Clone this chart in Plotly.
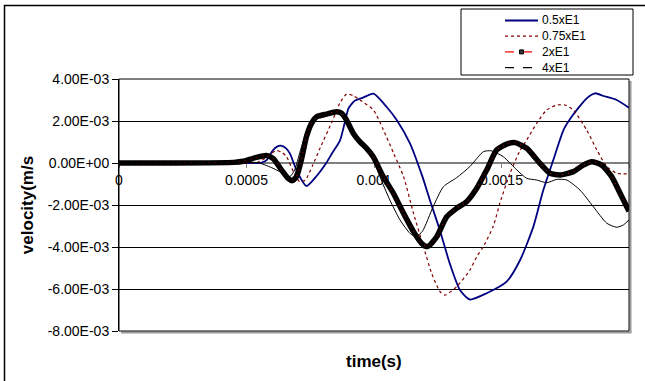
import plotly.graph_objects as go

# ---------------- data (time in ms, velocity in 1E-03 m/s) ----------------
series_names = ["0.5xE1", "0.75xE1", "2xE1", "4xE1"]

t_05_ms = [0, 0.30, 0.50, 0.56, 0.58, 0.60, 0.62, 0.638, 0.655, 0.670,
           0.700, 0.735, 0.775, 0.81, 0.835, 0.866, 0.885, 0.90, 0.925, 0.955,
           0.998, 1.049, 1.089, 1.141, 1.19, 1.219, 1.258, 1.297, 1.337, 1.376,
           1.442, 1.520, 1.573, 1.625, 1.664, 1.703, 1.743, 1.775, 1.834, 1.867,
           1.900, 1.952, 2.000]
v_05_e3 = [0, 0, 0, 0.02, 0.15, 0.55, 0.78, 0.82, 0.70, 0.46,
           -0.45, -1.10, -0.62, -0.05, 0.45, 1.05, 1.90, 2.60, 2.97, 3.10,
           3.30, 2.68, 2.05, 0.94, -0.65, -1.76, -3.19, -4.78, -6.05, -6.50,
           -6.20, -5.65, -4.62, -3.03, -1.29, 0.14, 1.57, 2.20, 3.08, 3.32,
           3.19, 3.00, 2.63]

t_075_ms = [0, 0.50, 0.54, 0.57, 0.595, 0.618, 0.64, 0.657, 0.684, 0.709,
            0.73, 0.76, 0.79, 0.833, 0.866, 0.893, 0.92, 0.945, 0.998, 1.037,
            1.077, 1.116, 1.155, 1.194, 1.226, 1.259, 1.278, 1.324, 1.376, 1.403,
            1.429, 1.468, 1.494, 1.533, 1.573, 1.599, 1.638, 1.677, 1.717, 1.749,
            1.782, 1.834, 1.874, 1.913, 1.952, 2.000]
v_075_e3 = [0, 0, 0.02, 0.2, 0.45, 0.59, 0.5, 0.3, -0.41, -0.89,
            -0.82, -0.1, 0.75, 1.9, 2.85, 3.29, 3.2, 3.0, 2.52, 1.57,
            0.46, -0.65, -2.4, -3.98, -5.25, -6.13, -6.29, -5.89, -5.1, -4.46,
            -3.98, -3.0, -1.9, -0.5, 0.6, 1.1, 1.89, 2.52, 2.76, 2.76,
            2.52, 1.57, 0.62, -0.17, -0.49, -0.52]

t_2_ms = [0, 0.20, 0.45, 0.487, 0.539, 0.578, 0.606, 0.637, 0.663, 0.680,
          0.696, 0.716, 0.735, 0.755, 0.775, 0.814, 0.853, 0.873, 0.892, 0.919,
          0.945, 0.971, 0.997, 1.036, 1.076, 1.116, 1.155, 1.187, 1.21, 1.246,
          1.285, 1.324, 1.363, 1.403, 1.442, 1.481, 1.520, 1.553, 1.599, 1.651,
          1.690, 1.730, 1.782, 1.821, 1.854, 1.893, 1.932, 1.965, 2.000]
v_2_e3 = [0, 0, 0.03, 0.08, 0.27, 0.36, 0.2, -0.33, -0.73, -0.84,
          -0.65, 0.2, 1.25, 1.89, 2.2, 2.33, 2.44, 2.37, 2.05, 1.41,
          1.01, 0.7, 0.3, -0.65, -1.44, -2.4, -3.27, -3.83, -3.98, -3.51,
          -2.56, -2.16, -1.84, -1.2, -0.33, 0.62, 0.9, 0.97, 0.7, -0.02,
          -0.49, -0.57, -0.41, -0.1, 0.06, -0.1, -0.65, -1.44, -2.3]

t_4_ms = [0, 0.45, 0.50, 0.55, 0.604, 0.644, 0.670, 0.689, 0.709, 0.728,
          0.747, 0.775, 0.814, 0.853, 0.885, 0.931, 0.971, 0.997, 1.023, 1.062,
          1.102, 1.141, 1.165, 1.19, 1.232, 1.272, 1.324, 1.376, 1.429, 1.46,
          1.507, 1.560, 1.599, 1.638, 1.677, 1.717, 1.756, 1.808, 1.860, 1.913,
          1.952, 1.978, 2.000]
v_4_e3 = [0, 0, 0.05, 0.0, -0.25, -0.5, -0.65, -0.33, 0.5, 1.25,
          1.89, 2.2, 2.3, 2.37, 2.13, 1.18, 0.7, 0.14, -0.65, -1.76,
          -2.71, -3.35, -3.51, -3.25, -2.08, -1.13, -0.7, -0.17, 0.54, 0.58,
          0.3, -0.33, -0.73, -0.81, -0.94, -0.78, -0.81, -1.29, -2.08, -2.87,
          -3.06, -2.95, -2.71]

ytick_vals = [-0.008, -0.006, -0.004, -0.002, 0.0, 0.002, 0.004]
ytick_labels = ["-8.00E-03", "-6.00E-03", "-4.00E-03", "-2.00E-03",
                "0.00E+00", "2.00E-03", "4.00E-03"]
xtick_vals = [0, 0.0005, 0.001, 0.0015, 0.002]
xtick_labels = ["0", "0.0005", "0.001", "0.0015", "0.002"]


def si_t(ms):
    return [v * 1e-3 for v in ms]


def si_v(e3):
    return [v * 1e-3 for v in e3]


# ---------------- figure ----------------
FONT = "Liberation Sans, Arial, sans-serif"
FS = 14
FS_LEG = 12
W, H = 645, 381
L, R, T, B = 119, 16, 79, 50
PW, PH = W - L - R, H - T - B


def xp(px):
    return (px - L) / PW


def yp(py):
    return (H - B - py) / PH


NAVY = "#000080"
DARKRED = "#800000"
RED = "#FF0000"

fig = go.Figure()
sm = 0.6
fig.add_trace(go.Scatter(x=si_t(t_05_ms), y=si_v(v_05_e3), mode="lines",
                         name=series_names[0], showlegend=False,
                         line=dict(color=NAVY, width=1.8, shape="spline", smoothing=sm)))
fig.add_trace(go.Scatter(x=si_t(t_075_ms), y=si_v(v_075_e3), mode="lines",
                         name=series_names[1], showlegend=False,
                         line=dict(color=DARKRED, width=1.2, dash="dot", shape="spline", smoothing=sm)))
fig.add_trace(go.Scatter(x=si_t(t_2_ms), y=si_v(v_2_e3), mode="lines",
                         name=series_names[2], showlegend=False, hoverinfo="skip",
                         line=dict(color="black", width=5.5, shape="spline", smoothing=sm)))
fig.add_trace(go.Scatter(x=si_t(t_2_ms), y=si_v(v_2_e3), mode="lines",
                         name=series_names[2], showlegend=False,
                         line=dict(color=RED, width=0.8, dash="1px,5px", shape="spline", smoothing=sm)))
fig.add_trace(go.Scatter(x=si_t(t_4_ms), y=si_v(v_4_e3), mode="lines",
                         name=series_names[3], showlegend=False,
                         line=dict(color="black", width=1, shape="spline", smoothing=sm)))

shapes = []
annotations = []

# outer chart frame (right/bottom edges lie beyond the picture)
shapes.append(dict(type="rect", xref="paper", yref="paper",
                   x0=xp(4.5), x1=xp(700), y0=yp(420), y1=yp(5.5),
                   line=dict(color="black", width=1.5), layer="below"))
# plot area shadow + border
shapes.append(dict(type="line", xref="paper", yref="paper",
                   x0=xp(630.5), x1=xp(630.5), y0=yp(81), y1=yp(332.5),
                   line=dict(color="#9a9a9a", width=2)))
shapes.append(dict(type="line", xref="paper", yref="paper",
                   x0=xp(121), x1=xp(631.5), y0=yp(332.5), y1=yp(332.5),
                   line=dict(color="#9a9a9a", width=2)))
shapes.append(dict(type="rect", xref="paper", yref="paper",
                   x0=0, x1=1, y0=0, y1=1, line=dict(color="black", width=1)))

# legend (drawn by hand so the rows are as compact as the original)
leg_x0, leg_x1, leg_y0, leg_y1 = 461, 633, 9, 75
row_y = [20.5, 36.2, 51.9, 67.6]
samp_x0, samp_x1, text_x = 505, 538, 541
leg_styles = [
    dict(color=NAVY, width=2, dash="solid"),
    dict(color=DARKRED, width=1.2, dash="dot"),
    dict(color=RED, width=1.2, dash="dash"),
    dict(color="black", width=1.2, dash="dash"),
]
shapes.append(dict(type="rect", xref="paper", yref="paper",
                   x0=xp(leg_x0), x1=xp(leg_x1), y0=yp(leg_y1), y1=yp(leg_y0),
                   line=dict(color="black", width=1), fillcolor="white"))
for name, ry, st in zip(series_names, row_y, leg_styles):
    shapes.append(dict(type="line", xref="paper", yref="paper",
                       x0=xp(samp_x0), x1=xp(samp_x1), y0=yp(ry), y1=yp(ry),
                       line=st))
    annotations.append(dict(xref="paper", yref="paper", x=xp(text_x), y=yp(ry),
                            xanchor="left", yanchor="middle", showarrow=False,
                            borderpad=0,
                            text=name, font=dict(family=FONT, size=FS_LEG, color="black")))
mx = (samp_x0 + samp_x1) / 2
shapes.append(dict(type="rect", xref="paper", yref="paper",
                   x0=xp(mx - 2), x1=xp(mx + 2), y0=yp(row_y[2] + 2), y1=yp(row_y[2] - 2),
                   line=dict(color="black", width=1), fillcolor="#333333"))

# x axis title (the tick axis itself sits at y = 0)
annotations.append(dict(xref="paper", yref="paper", x=0.5, y=0, yanchor="top",
                        yshift=-19, showarrow=False, text="time(s)",
                        font=dict(family=FONT, size=17, color="black", weight="bold")))

fig.update_layout(
    width=W, height=H,
    margin=dict(l=L, r=R, t=T, b=B, pad=0),
    paper_bgcolor="white", plot_bgcolor="white",
    font=dict(family=FONT, size=FS, color="black"),
    showlegend=False,
    shapes=shapes, annotations=annotations,
    xaxis=dict(range=[0, 0.002], anchor="free", position=2 / 3,
               tickvals=xtick_vals, ticktext=xtick_labels,
               showline=True, linecolor="#808080", linewidth=2,
               ticks="outside", ticklen=4, tickcolor="#808080", tickwidth=1,
               showgrid=False, zeroline=False, layer="below traces",
               tickfont=dict(family=FONT, size=FS, color="black")),
    yaxis=dict(range=[-0.008, 0.004], tickvals=ytick_vals, ticktext=ytick_labels,
               showline=True, linecolor="black", linewidth=1,
               ticks="outside", ticklen=6, tickcolor="black",
               showgrid=True, gridcolor="black", gridwidth=1, zeroline=False,
               tickfont=dict(family=FONT, size=FS, color="black"),
               title=dict(text="velocity(m/s", standoff=9,
                          font=dict(family=FONT, size=17, color="black", weight="bold"))),
)

fig.write_html("out.html", config={"displayModeBar": False},
               post_script="document.body.style.margin='0';document.body.style.overflow='hidden';")
